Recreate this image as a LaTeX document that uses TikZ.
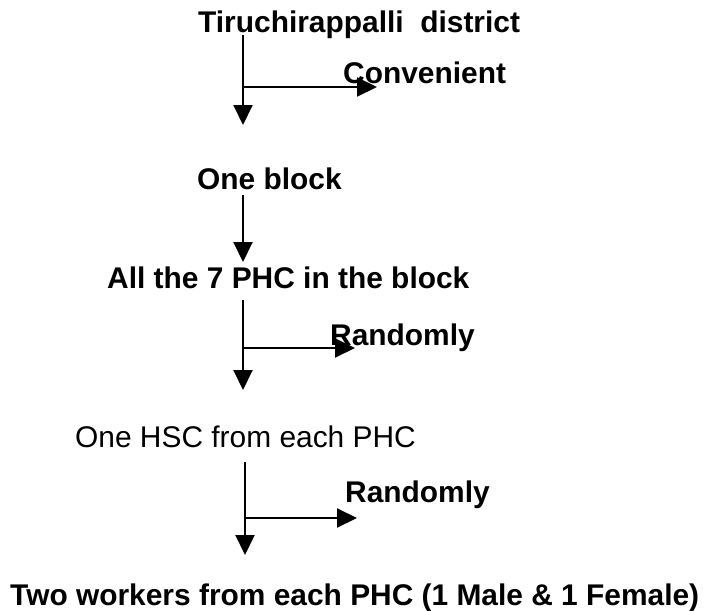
\documentclass[tikz,border=0pt]{standalone}
\usepackage{fontspec}
\setmainfont{Liberation Sans}
\usetikzlibrary{arrows.meta}
\begin{document}
\begin{tikzpicture}[x=1pt,y=-1pt,
  label/.style={anchor=base west,inner sep=0pt,font=\fontsize{29.9}{35}\selectfont\bfseries},
  plain/.style={anchor=base west,inner sep=0pt,font=\fontsize{29.9}{35}\selectfont},
  flow/.style={line width=2pt,-{Triangle[length=20pt,width=19pt]}}]
\useasboundingbox[fill=white] (0,0) rectangle (705,611);

% stage labels
\node[label] (dist)  at (198,32)  {Tiruchirappalli~~district};
\node[label] (conv)  at (343,83)  {Convenient};
\node[label] (block) at (197,189) {One block};
\node[label] (phc)   at (107,288) {All the 7 PHC in the block};
\node[label] (rand1) at (330,345) {Randomly};
\node[plain] (hsc)   at (75,447)  {One HSC from each PHC};
\node[label] (rand2) at (345,502) {Randomly};
\node[label] (work)  at (10,605)  {Two workers from each PHC (1 Male \& 1 Female)};

% arrow anchors
\coordinate (s1) at (243,35);  \coordinate (e1) at (243,125);
\coordinate (b1) at (243,87);  \coordinate (r1) at (377,87);
\coordinate (s2) at (243,195); \coordinate (e2) at (243,262);
\coordinate (s3) at (243,300); \coordinate (e3) at (243,390);
\coordinate (b3) at (243,348); \coordinate (r3) at (355,348);
\coordinate (s4) at (245,462); \coordinate (e4) at (245,555);
\coordinate (b4) at (245,518); \coordinate (r4) at (357,518);

% arrows
\draw[flow] (s1) -- (e1);
\draw[flow] (b1) -- (r1);
\draw[flow] (s2) -- (e2);
\draw[flow] (s3) -- (e3);
\draw[flow] (b3) -- (r3);
\draw[flow] (s4) -- (e4);
\draw[flow] (b4) -- (r4);
\end{tikzpicture}
\end{document}
